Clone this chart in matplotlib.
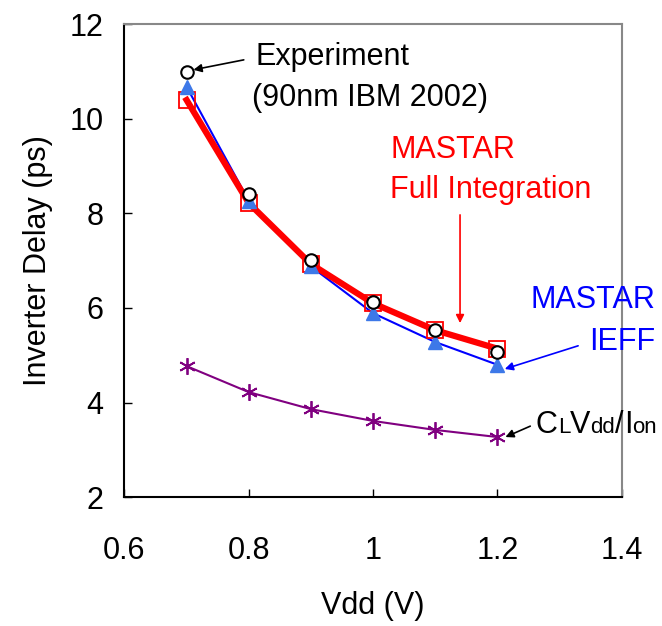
import matplotlib
matplotlib.use("Agg")
import matplotlib.pyplot as plt
from matplotlib.offsetbox import TextArea, HPacker, AnnotationBbox

plt.rcParams['font.family'] = ['Liberation Sans', 'DejaVu Sans']

# Vdd (V)
vdd = [0.7, 0.8, 0.9, 1.0, 1.1, 1.2]
# inverter delay (ps)
experiment = [11.0, 8.42, 7.02, 6.13, 5.53, 5.07]
mastar_full = [10.4, 8.22, 6.93, 6.1, 5.53, 5.14]
mastar_ieff = [10.68, 8.27, 6.88, 5.89, 5.28, 4.8]
cv_over_i = [4.77, 4.22, 3.86, 3.61, 3.42, 3.27]

xticks = [0.6, 0.8, 1.0, 1.2, 1.4]
xticklabels = ['0.6', '0.8', '1', '1.2', '1.4']
yticks = [2, 4, 6, 8, 10, 12]

fig = plt.figure(figsize=(6.62, 6.26), dpi=100)
ax = fig.add_axes([0.188, 0.206, 0.751, 0.755])

ax.plot(vdd, mastar_ieff, color='#0000ff', lw=1.5, zorder=2)
ax.plot(vdd, mastar_full, color='#ff0000', lw=4.5, marker='s', ms=11,
        mfc='none', mec='#ff0000', mew=1.3, zorder=3)
ax.plot(vdd, mastar_ieff, ls='none', marker='^', ms=10, mfc='#3d78e8',
        mec='#3d78e8', zorder=4)
ax.plot(vdd, experiment, ls='none', marker='o', ms=9, mfc='white',
        mec='black', mew=1.5, zorder=5)
ax.plot(vdd, cv_over_i, color='#800080', lw=1.5, marker=(6, 2, 0), ms=12,
        mec='#800080', mew=1.3, zorder=3)

ax.set_xlim(0.6, 1.4)
ax.set_ylim(2, 12)
ax.set_xticks(xticks)
ax.set_xticklabels(xticklabels)
ax.set_yticks(yticks)
ax.tick_params(direction='in', length=6, width=1, labelsize=22)
ax.tick_params(axis='x', pad=28)
ax.tick_params(axis='y', pad=15)
ax.spines['top'].set_color('#888888')
ax.spines['right'].set_color('#888888')
for side in ['top', 'right', 'left', 'bottom']:
    ax.spines[side].set_linewidth(1.5)
ax.set_xlabel('Vdd (V)', fontsize=22, labelpad=18)
ax.set_ylabel('Inverter Delay (ps)', fontsize=22, labelpad=12)

txt = dict(fontsize=22, va='center', clip_on=False)

# Experiment label
ax.text(0.811, 11.31, 'Experiment', ha='left', color='black', **txt)
ax.text(0.806, 10.44, '(90nm IBM 2002)', ha='left', color='black', **txt)
ax.annotate('', xy=(0.711, 11.04), xytext=(0.792, 11.25),
            arrowprops=dict(arrowstyle='-|>', color='black', lw=1.2,
                            mutation_scale=12, shrinkA=0, shrinkB=0))

# MASTAR full integration label
ax.text(1.028, 9.34, 'MASTAR', ha='left', color='#ff0000', **txt)
ax.text(1.028, 8.5, 'Full Integration', ha='left', color='#ff0000', **txt)
ax.annotate('', xy=(1.14, 5.68), xytext=(1.14, 7.97),
            arrowprops=dict(arrowstyle='-|>', color='#ff0000', lw=1.2,
                            mutation_scale=12, shrinkA=0, shrinkB=0))

# MASTAR IEFF label
ax.text(1.454, 6.17, 'MASTAR', ha='right', color='#0000ff', **txt)
ax.text(1.454, 5.28, 'IEFF', ha='right', color='#0000ff', **txt)
ax.annotate('', xy=(1.212, 4.71), xytext=(1.330, 5.2),
            arrowprops=dict(arrowstyle='-|>', color='#0000ff', lw=1.2,
                            mutation_scale=12, shrinkA=0, shrinkB=0))

# C_L Vdd / Ion label, small letters on the same baseline
big = dict(size=22, color='black', family='Liberation Sans')
small = dict(size=16, color='black', family='Liberation Sans')
parts = [('C', big), ('L', small), ('V', big), ('dd', small), ('/', big),
         ('I', big), ('on', small)]
box = HPacker(children=[TextArea(s, textprops=p) for s, p in parts],
              align='baseline', pad=0, sep=0)
ab = AnnotationBbox(box, (1.262, 3.52), xycoords='data', box_alignment=(0, 0.5),
                    frameon=False, annotation_clip=False)
ax.add_artist(ab)
ax.annotate('', xy=(1.213, 3.27), xytext=(1.253, 3.5),
            arrowprops=dict(arrowstyle='-|>', color='black', lw=1.2,
                            mutation_scale=12, shrinkA=0, shrinkB=0))

fig.savefig('out.png', dpi=100)
